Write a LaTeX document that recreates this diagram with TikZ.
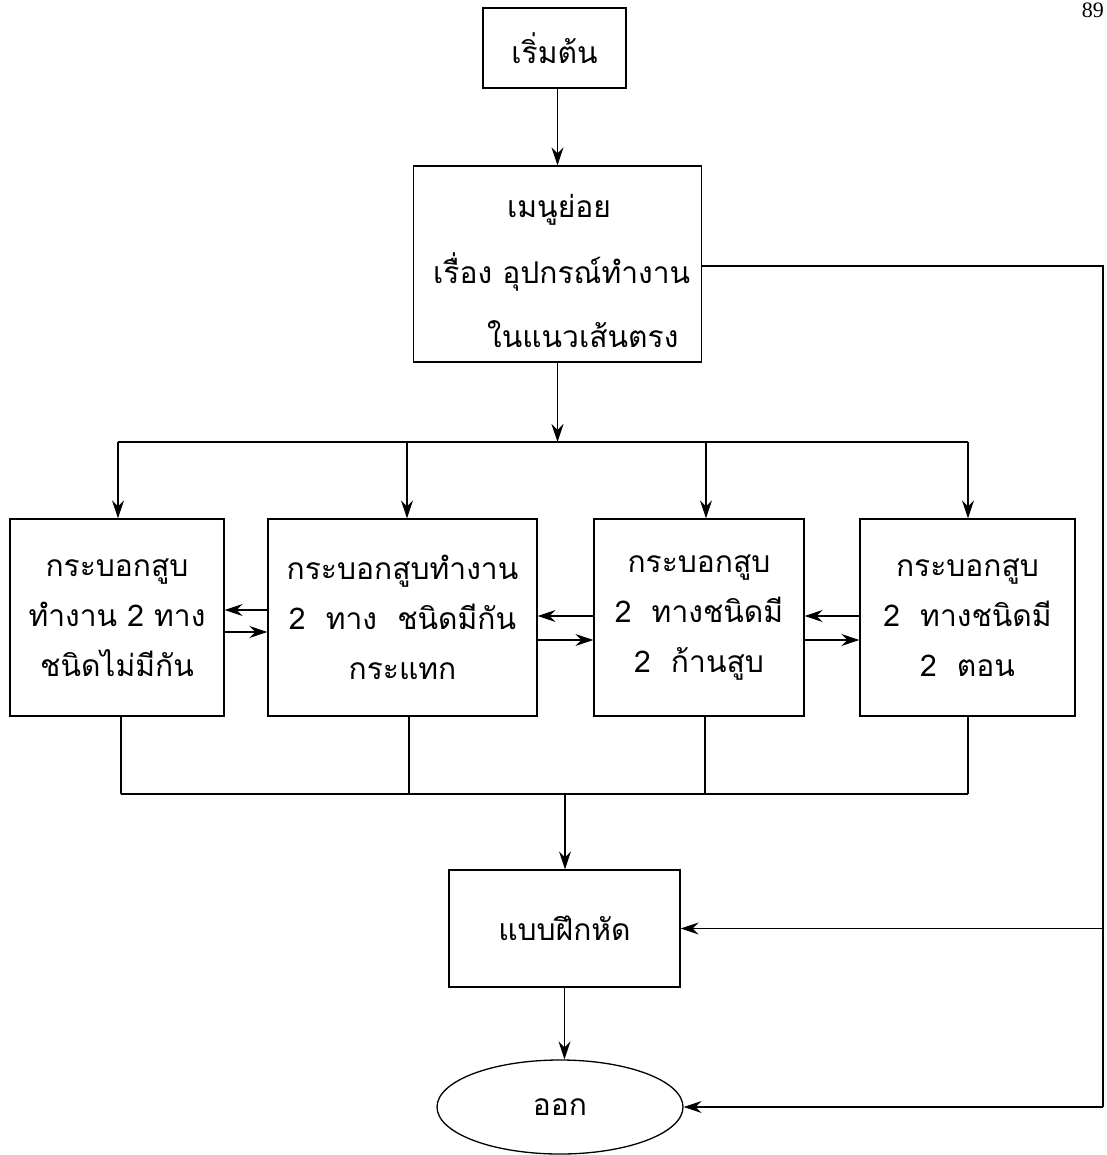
\documentclass[tikz,border=0pt]{standalone}
\usepackage{fontspec}
\setmainfont{Liberation Serif}
\newfontfamily\thaifont[Script=Thai]{Loma}
\usetikzlibrary{arrows.meta,shapes.geometric}

\newcommand{\thaitext}{\thaifont\fontsize{30}{50}\selectfont}

\tikzset{
  line/.style={line width=1.3pt},
  arr/.style={line, -{Stealth[length=18pt,width=12pt,inset=6pt]}},
  box/.style={draw, line, rectangle, align=center, font=\thaitext, inner sep=0pt},
  txt/.style={font=\thaitext, inner sep=0pt},
}

\begin{document}
\begin{tikzpicture}[x=1pt,y=-1pt]

  % page frame (picture in pixel units, y downwards)
  \useasboundingbox (0,0) rectangle (1106,1155);

  % page number in the corner
  \node[anchor=north east, font=\fontsize{22}{22}\selectfont, inner sep=0pt] (pgnum) at (1104,3) {89};

  % start and sub menu
  \node[box, minimum width=143pt, minimum height=80pt] (start) at (554.5,48) {เริ่มต้น};
  \node[box, minimum width=288pt, minimum height=196pt] (menu) at (557.5,264) {};
  \node[txt, anchor=west] (menuA) at (507,210) {เมนูย่อย};
  \node[txt, anchor=west] (menuB) at (433,272) {เรื่อง อุปกรณ์ทำงาน};
  \node[txt, anchor=west] (menuC) at (487,334) {ในแนวเส้นตรง};

  % the four kinds of cylinder
  \node[box, minimum width=214pt, minimum height=197pt] (b1) at (117,617.5)
    {กระบอกสูบ\\ทำงาน 2 ทาง\\ชนิดไม่มีกัน};
  \node[box, minimum width=269pt, minimum height=197pt] (b2) at (402.5,617.5)
    {กระบอกสูบทำงาน\\2~~ทาง~~ชนิดมีกัน\\กระแทก};
  \node[box, minimum width=210pt, minimum height=197pt] (b3) at (699,617.5)
    {กระบอกสูบ\\2~~ทางชนิดมี\\2~~ก้านสูบ};
  \node[box, minimum width=215pt, minimum height=197pt] (b4) at (967.5,617.5)
    {กระบอกสูบ\\2~~ทางชนิดมี\\2~~ตอน};

  % exercise and exit
  \node[box, minimum width=231pt, minimum height=117pt] (prac) at (564.5,928.5) {แบบฝึกหัด};
  \node[draw, line, ellipse, minimum width=246pt, minimum height=94pt, font=\thaitext]
    (exit) at (560,1107) {ออก};

  % bus points
  \coordinate (t1) at (118,442);
  \coordinate (t2) at (407,442);
  \coordinate (t3) at (706,442);
  \coordinate (t4) at (968,442);
  \coordinate (u1) at (121,794);
  \coordinate (u2) at (409,794);
  \coordinate (u3) at (705,794);
  \coordinate (u4) at (968,794);
  \coordinate (u0) at (565,794);
  \coordinate (rt) at (1103,266);

  % heights of the arrows between the boxes
  \coordinate (h1) at (0,610);
  \coordinate (h2) at (0,632);
  \coordinate (h3) at (0,616);
  \coordinate (h4) at (0,640);

  % top part
  \draw[arr] (menu.north |- start.south) -- (menu.north);
  \draw[arr] (menu.south) -- (menu.south |- t1);
  \draw[line] (t1) -- (t4);
  \draw[arr] (t1) -- (t1 |- b1.north);
  \draw[arr] (t2) -- (t2 |- b2.north);
  \draw[arr] (t3) -- (t3 |- b3.north);
  \draw[arr] (t4) -- (t4 |- b4.north);

  % arrows between the boxes
  \draw[arr] (b2.west |- h1) -- (b1.east |- h1);
  \draw[arr] (b1.east |- h2) -- (b2.west |- h2);
  \draw[arr] (b3.west |- h3) -- (b2.east |- h3);
  \draw[arr] (b2.east |- h4) -- (b3.west |- h4);
  \draw[arr] (b4.west |- h3) -- (b3.east |- h3);
  \draw[arr] (b3.east |- h4) -- (b4.west |- h4);

  % bottom part
  \draw[line] (u1 |- b1.south) -- (u1);
  \draw[line] (u2 |- b2.south) -- (u2);
  \draw[line] (u3 |- b3.south) -- (u3);
  \draw[line] (u4 |- b4.south) -- (u4);
  \draw[line] (u1) -- (u4);
  \draw[arr] (u0) -- (u0 |- prac.north);
  \draw[arr] (prac.south) -- (prac.south |- exit.north);

  % right side loop
  \draw[line] (menu.east |- rt) -- (rt) -- (rt |- exit.east);
  \draw[arr] (rt |- prac.east) -- (prac.east);
  \draw[arr] (rt |- exit.east) -- (exit.east);

\end{tikzpicture}
\end{document}
